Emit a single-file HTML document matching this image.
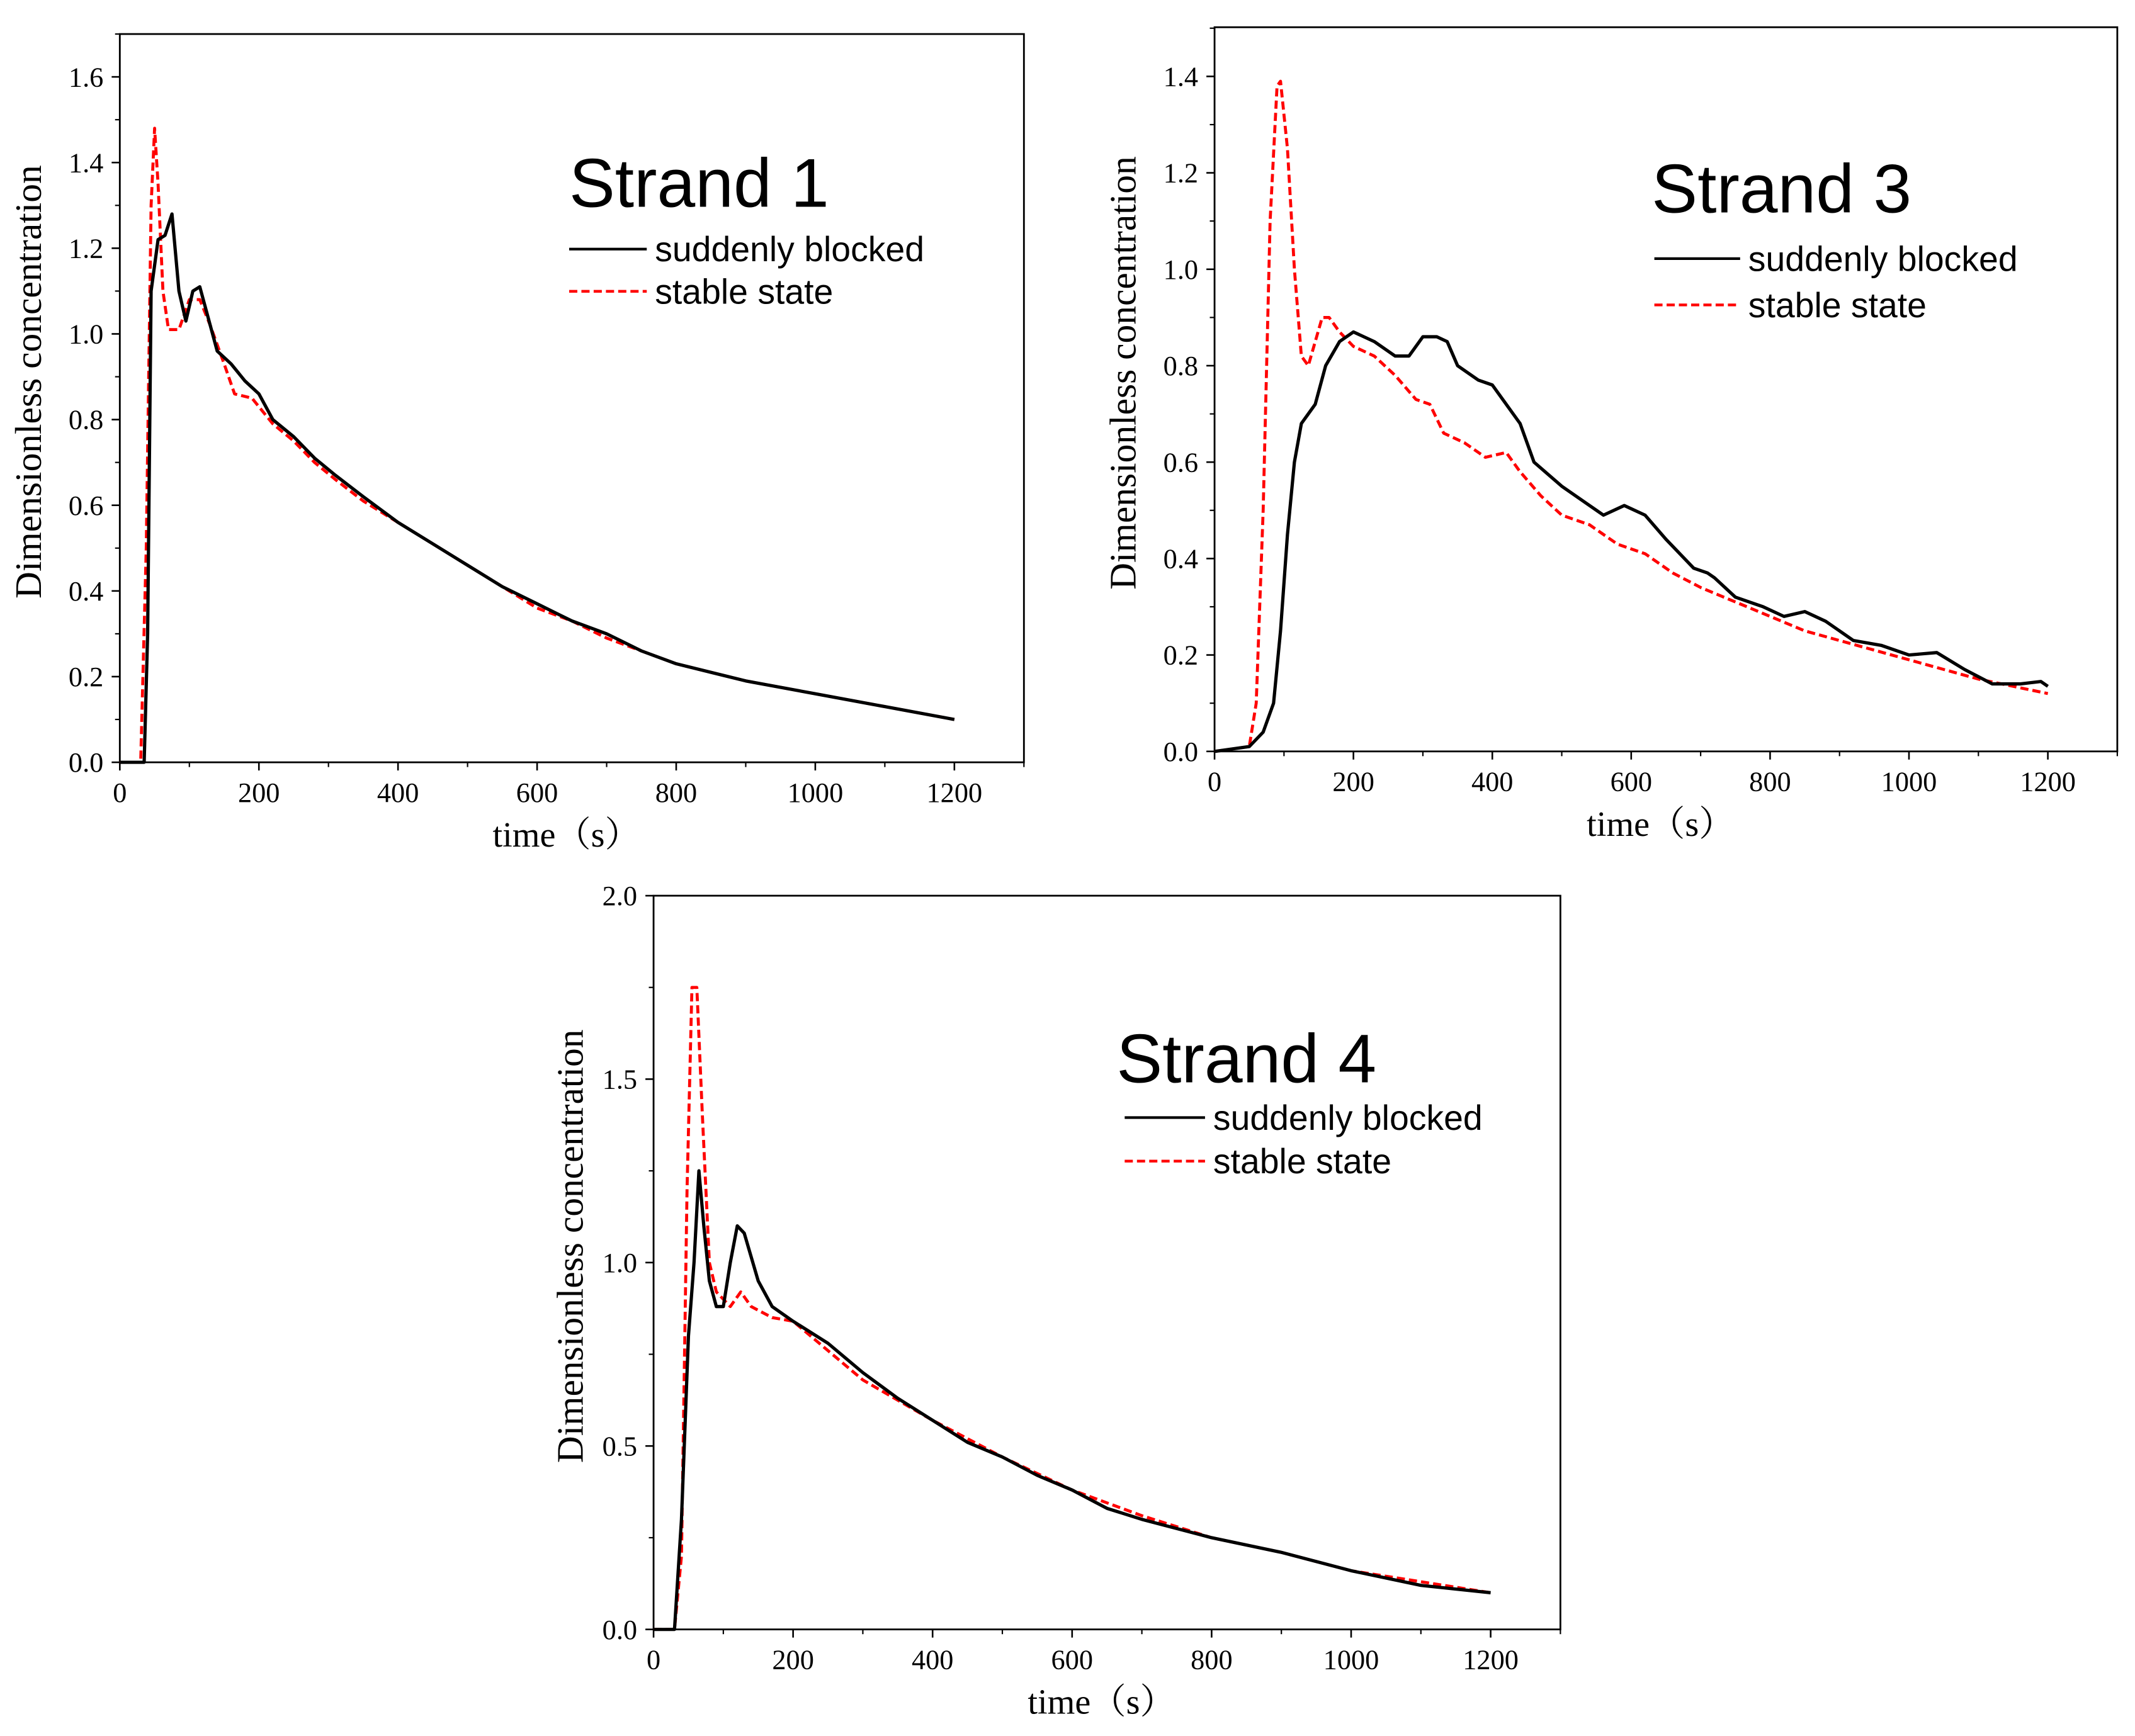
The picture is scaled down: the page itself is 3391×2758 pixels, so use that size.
<!DOCTYPE html>
<html><head><meta charset="utf-8"><style>html,body{margin:0;padding:0;background:#fff}svg{display:block}</style></head>
<body>
<svg id="fig" xmlns="http://www.w3.org/2000/svg" width="3391" height="2758" viewBox="0 0 1568 1275.3" preserveAspectRatio="none"></svg>
<script>
// Strand 1 data
const s1Time = [0,35,40,45,55,65,75,85,95,105,115,125,140,160,180,200,220,250,280,310,350,400,450,500,550,600,650,700,750,800,900,1000,1100,1200];
const s1Blocked = [0,0,0.3,1.1,1.22,1.23,1.28,1.1,1.03,1.1,1.11,1.05,0.96,0.93,0.89,0.86,0.8,0.76,0.71,0.67,0.62,0.56,0.51,0.46,0.41,0.37,0.33,0.3,0.26,0.23,0.19,0.16,0.13,0.1];
const s1TimeR = [0,30,38,45,50,55,62,70,85,100,115,130,150,165,190,220,250,280,310,350,400,450,500,550,600,650,700,750,800,900,1000,1100,1200];
const s1Stable = [0,0,0.5,1.3,1.48,1.35,1.1,1.01,1.01,1.08,1.08,1.02,0.93,0.86,0.85,0.79,0.75,0.7,0.66,0.61,0.56,0.51,0.46,0.41,0.36,0.33,0.29,0.26,0.23,0.19,0.16,0.13,0.1];
// Strand 3 data
const s3Time = [0,50,70,85,95,105,115,125,135,145,160,180,200,230,260,280,300,320,335,350,380,400,420,440,460,500,540,560,590,620,650,690,710,720,750,790,820,850,880,920,960,1000,1040,1080,1120,1160,1190,1200];
const s3Blocked = [0,0.01,0.04,0.1,0.25,0.45,0.6,0.68,0.7,0.72,0.8,0.85,0.87,0.85,0.82,0.82,0.86,0.86,0.85,0.8,0.77,0.76,0.72,0.68,0.6,0.55,0.51,0.49,0.51,0.49,0.44,0.38,0.37,0.36,0.32,0.3,0.28,0.29,0.27,0.23,0.22,0.2,0.205,0.17,0.14,0.14,0.145,0.135];
const s3TimeR = [0,50,60,70,80,90,95,105,115,125,135,145,155,165,180,200,230,260,290,310,330,360,390,420,440,470,500,540,580,620,660,700,750,800,850,900,1000,1100,1200];
const s3Stable = [0,0.01,0.1,0.5,1.1,1.38,1.39,1.25,1.0,0.82,0.8,0.85,0.9,0.9,0.87,0.84,0.82,0.78,0.73,0.72,0.66,0.64,0.61,0.62,0.58,0.53,0.49,0.47,0.43,0.41,0.37,0.34,0.31,0.28,0.25,0.23,0.19,0.15,0.12];
// Strand 4 data
const s4Time = [0,30,40,50,58,65,72,80,90,100,110,120,130,150,170,200,250,300,350,400,450,500,550,600,650,700,800,900,1000,1100,1200];
const s4Blocked = [0,0,0.3,0.8,1.0,1.25,1.1,0.95,0.88,0.88,1.0,1.1,1.08,0.95,0.88,0.84,0.78,0.7,0.63,0.57,0.51,0.47,0.42,0.38,0.33,0.3,0.25,0.21,0.16,0.12,0.1];
const s4TimeR = [0,30,40,48,55,62,70,80,90,110,125,140,170,200,250,300,400,500,600,700,800,900,1000,1100,1200];
const s4Stable = [0,0,0.2,1.2,1.75,1.75,1.4,1.0,0.92,0.88,0.92,0.88,0.85,0.84,0.76,0.68,0.57,0.47,0.38,0.31,0.25,0.21,0.16,0.13,0.1];
const xTicks = [0,200,400,600,800,1000,1200];

const NS = 'http://www.w3.org/2000/svg';
const svg = document.getElementById('fig');
function mk(tag, attrs, parent, text){const e=document.createElementNS(NS,tag);for(const k in attrs)e.setAttribute(k,attrs[k]);if(text!==undefined)e.textContent=text;(parent||svg).appendChild(e);return e;}

function chart(cfg){
  const g = mk('g',{});
  
  
  const X = v => cfg.x0 + (v/1300)*(cfg.x1-cfg.x0);
  const Y = v => cfg.y1 - (v/cfg.ymax)*(cfg.y1-cfg.y0);
  const box = mk('rect',{x:cfg.x0,y:cfg.y0,width:cfg.x1-cfg.x0,height:cfg.y1-cfg.y0,fill:'none',stroke:'#000','stroke-width':1.3},g);
  
  
  const ff='"Liberation Serif", serif';
  xTicks.forEach(t=>{
    mk('line',{x1:X(t),x2:X(t),y1:cfg.y1,y2:cfg.y1+6,stroke:'#000','stroke-width':1.2},g);
    mk('line',{x1:X(t+100),x2:X(t+100),y1:cfg.y1,y2:cfg.y1+3.5,stroke:'#000','stroke-width':1},g);
    const tl = mk('text',{x:X(t),y:cfg.y1+29,'font-family':ff,'font-size':20.5,'text-anchor':'middle'},g,String(t));
    
    
  });
  for(let v=0; v<=cfg.ymax+1e-9; v+=cfg.ystep){
    mk('line',{x1:cfg.x0-6,x2:cfg.x0,y1:Y(v),y2:Y(v),stroke:'#000','stroke-width':1.2},g);
    if(v+cfg.ystep/2<=cfg.ymax) mk('line',{x1:cfg.x0-3.5,x2:cfg.x0,y1:Y(v+cfg.ystep/2),y2:Y(v+cfg.ystep/2),stroke:'#000','stroke-width':1},g);
    if(v<=cfg.ylabMax+1e-9){
      const yl = mk('text',{x:cfg.x0-12,y:Y(v)+7,'font-family':ff,'font-size':20.5,'text-anchor':'end'},g,v.toFixed(1));
      
      
    }
  }
  const xt = mk('text',{x:(cfg.x0+cfg.x1)/2-4,y:cfg.y1+62,'font-family':'"Liberation Serif", "Noto Serif CJK SC", serif','font-size':26,'text-anchor':'middle'},g,'time（s）');
  
  
  const yc=(cfg.y0+cfg.y1)/2-12;
  const yx=cfg.x0-cfg.ytOff;
  const yt = mk('text',{x:yx,y:yc,'font-family':ff,'font-size':27.5,'text-anchor':'middle',transform:`rotate(-90 ${yx} ${yc})`},g,'Dimensionless concentration');
  
  
  const pts=(ts,vs)=>ts.map((t,i)=>X(t).toFixed(2)+','+Y(vs[i]).toFixed(2)).join(' ');
  const red = mk('polyline',{points:pts(cfg.tr,cfg.red),fill:'none',stroke:'#ff0000','stroke-width':2.2,'stroke-dasharray':'6,3','stroke-linejoin':'round'},g);
  
  
  const blk = mk('polyline',{points:pts(cfg.tb,cfg.blk),fill:'none',stroke:'#000','stroke-width':2.4,'stroke-linejoin':'round'},g);
  
  
  const L=cfg.leg;
  const title = mk('text',{x:L.tx,y:L.ty,'font-family':'"Liberation Sans", sans-serif','font-size':50.5},g,cfg.title);
  
  
  const e1 = mk('g',{},g);
  
  
  mk('line',{x1:L.lx,x2:L.lx2,y1:L.ly,y2:L.ly,stroke:'#000','stroke-width':2},e1);
  mk('text',{x:L.lx2+6,y:L.ly+9,'font-family':'"Liberation Sans", sans-serif','font-size':25.6},e1,'suddenly blocked');
  const e2 = mk('g',{},g);
  
  
  mk('line',{x1:L.lx,x2:L.lx2,y1:L.ly+L.dy,y2:L.ly+L.dy,stroke:'#ff0000','stroke-width':2,'stroke-dasharray':'6,3'},e2);
  mk('text',{x:L.lx2+6,y:L.ly+L.dy+9,'font-family':'"Liberation Sans", sans-serif','font-size':25.6},e2,'stable state');
}
chart({name:'strand-1-chart',title:'Strand 1',x0:88,x1:752,y0:25,y1:560,ymax:1.7,ystep:0.2,ylabMax:1.6,ytOff:58,tb:s1Time,blk:s1Blocked,tr:s1TimeR,red:s1Stable,
  leg:{tx:418,ty:152,lx:418,lx2:475,ly:183,dy:31}});
chart({name:'strand-3-chart',title:'Strand 3',x0:892,x1:1555,y0:20,y1:552,ymax:1.502,ystep:0.2,ylabMax:1.4,ytOff:58,tb:s3Time,blk:s3Blocked,tr:s3TimeR,red:s3Stable,
  leg:{tx:1213,ty:156,lx:1215,lx2:1278,ly:190,dy:34}});
chart({name:'strand-4-chart',title:'Strand 4',x0:480,x1:1146,y0:658,y1:1197,ymax:2.0,ystep:0.5,ylabMax:2.0,ytOff:52,tb:s4Time,blk:s4Blocked,tr:s4TimeR,red:s4Stable,
  leg:{tx:820,ty:795,lx:826,lx2:885,ly:821,dy:32}});
</script>
</body></html>
